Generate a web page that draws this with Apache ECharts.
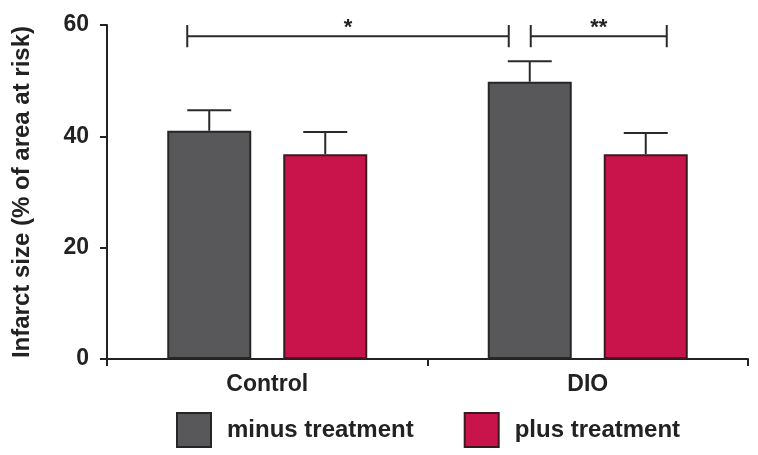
<!DOCTYPE html>
<html>
<head>
<meta charset="utf-8">
<script src="https://cdn.jsdelivr.net/npm/echarts@6/dist/echarts.min.js"></script>
<style>html,body{margin:0;padding:0;background:#fff}#c{width:758px;height:455px}</style>
</head>
<body>
<div id="c"></div>
<script>
var categories = ['Control', 'DIO'];
var seriesNames = ['minus treatment', 'plus treatment'];
var minusValues = [41.0, 49.8];
var plusValues = [36.8, 36.8];
var minusErrTop = [44.7, 53.5];
var plusErrTop = [40.8, 40.6];
var yTicks = [0, 20, 40, 60];
// brackets: [startCat, startSeries, endCat, endSeries, level, label]
var brackets = [
  [0, 0, 1, 0, 58, '*'],
  [1, 0, 1, 1, 58, '**']
];

var FONT = 'Liberation Sans';
var INK = '#222';
var BAR_W = 84, BAR_GAP = 32;
var CAP_HALF = 22;
function barOffset(s) { return (s === 0 ? -1 : 1) * (BAR_W + BAR_GAP) / 2; }

var errData = [];
for (var i = 0; i < categories.length; i++) {
  errData.push([i, minusValues[i], minusErrTop[i], 0]);
  errData.push([i, plusValues[i], plusErrTop[i], 1]);
}

var chart = echarts.init(document.getElementById('c'), null, {renderer: 'canvas'});
chart.setOption({
  animation: false,
  backgroundColor: '#fff',
  grid: {left: 107, right: 10, top: 25, bottom: 96, containLabel: false},
  legend: {
    data: seriesNames,
    left: 176, top: 412, padding: 0,
    itemWidth: 34, itemHeight: 34, itemGap: 50,
    icon: 'rect',
    textStyle: {fontFamily: FONT, fontWeight: 'bold', fontSize: 24, color: INK, padding: [0, 0, 0, 11]}
  },
  xAxis: {
    type: 'category',
    data: categories,
    axisLine: {lineStyle: {color: INK, width: 2}},
    axisTick: {show: true, length: 7, lineStyle: {color: INK, width: 2}},
    axisLabel: {fontFamily: FONT, fontWeight: 'bold', fontSize: 23, color: INK, margin: 14}
  },
  yAxis: {
    type: 'value', min: yTicks[0], max: yTicks[yTicks.length - 1], interval: yTicks[1] - yTicks[0],
    name: 'Infarct size (% of area at risk)',
    nameLocation: 'middle', nameGap: 73,
    nameTextStyle: {fontFamily: FONT, fontWeight: 'bold', fontSize: 24, color: INK},
    axisLine: {show: true, lineStyle: {color: INK, width: 2}},
    axisTick: {show: true, length: 7, lineStyle: {color: INK, width: 2}},
    axisLabel: {fontFamily: FONT, fontWeight: 'bold', fontSize: 23, color: INK, margin: 18},
    splitLine: {show: false}
  },
  series: [
    {
      name: seriesNames[0], type: 'bar', data: minusValues,
      barWidth: BAR_W, barGap: (BAR_GAP / BAR_W * 100) + '%',
      itemStyle: {color: '#58585a', borderColor: '#262626', borderWidth: 2}
    },
    {
      name: seriesNames[1], type: 'bar', data: plusValues,
      barWidth: BAR_W,
      itemStyle: {color: '#c8144a', borderColor: '#3a1a22', borderWidth: 2}
    },
    {
      type: 'custom', silent: true, z: 5,
      data: errData,
      renderItem: function (params, api) {
        var c = api.value(0), s = api.value(3);
        var base = api.coord([c, api.value(1)]);
        var top = api.coord([c, api.value(2)]);
        var x = base[0] + barOffset(s);
        var st = {stroke: '#2a2a2a', lineWidth: 2};
        return {type: 'group', children: [
          {type: 'line', shape: {x1: x, y1: base[1], x2: x, y2: top[1]}, style: st},
          {type: 'line', shape: {x1: x - CAP_HALF, y1: top[1], x2: x + CAP_HALF, y2: top[1]}, style: st}
        ]};
      }
    },
    {
      type: 'custom', silent: true, z: 5, clip: false,
      data: brackets,
      renderItem: function (params, api) {
        var b = brackets[params.dataIndex];
        var lvl = b[4];
        var p1 = api.coord([b[0], lvl]);
        var p2 = api.coord([b[2], lvl]);
        var hi = api.coord([b[0], lvl + 2])[1];
        var lo = api.coord([b[0], lvl - 2])[1];
        var x1 = p1[0] + barOffset(b[1]) + (b[1] === 0 && b[0] !== b[2] ? -CAP_HALF : (b[0] === b[2] ? 1 : 0));
        var x2 = p2[0] + barOffset(b[3]) + (b[0] === b[2] ? CAP_HALF - 1 : -CAP_HALF + 1);
        var y = p1[1];
        var st = {stroke: '#2a2a2a', lineWidth: 2};
        return {type: 'group', children: [
          {type: 'line', shape: {x1: x1, y1: y, x2: x2, y2: y}, style: st},
          {type: 'line', shape: {x1: x1, y1: hi, x2: x1, y2: lo}, style: st},
          {type: 'line', shape: {x1: x2, y1: hi, x2: x2, y2: lo}, style: st},
          {type: 'text', x: (x1 + x2) / 2, y: y - 8, style: {
            text: b[5], fill: INK, font: 'bold 22px "' + FONT + '"', align: 'center', verticalAlign: 'middle'
          }}
        ]};
      }
    }
  ]
});
</script>
</body>
</html>
